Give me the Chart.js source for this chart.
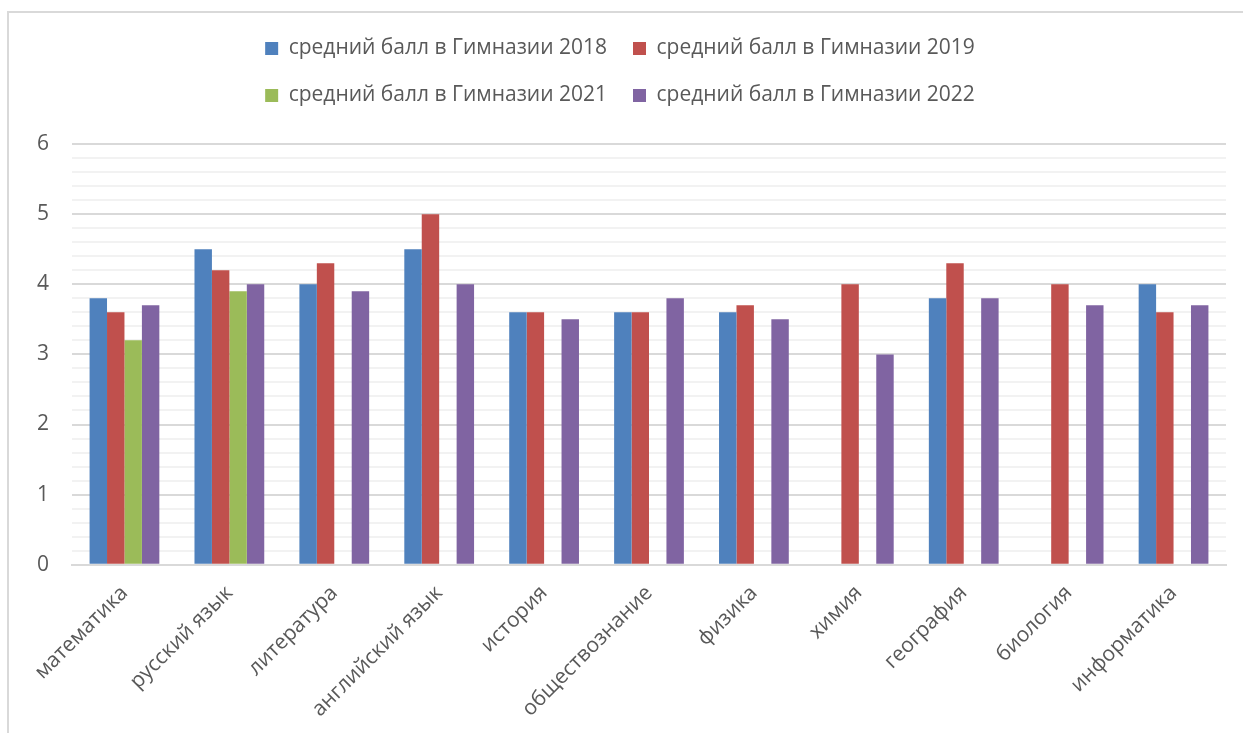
<!DOCTYPE html>
<html>
<head>
<meta charset="utf-8">
<script src="https://cdn.jsdelivr.net/npm/chart.js@4.4.1/dist/chart.umd.min.js"></script>
<style>
  html, body { margin: 0; padding: 0; background: #fff; overflow: hidden; }
  #wrap { position: relative; width: 1243px; height: 733px; }
  #frame { position: absolute; left: 7px; top: 11px; width: 1300px; height: 800px;
           border: 2px solid #d9d9d9; box-sizing: border-box; }
  canvas { position: absolute; left: 0; top: 0; }
</style>
</head>
<body>
<div id="wrap">
  <div id="frame"></div>
  <canvas id="gymChart" width="1243" height="733"></canvas>
</div>
<script>
// subjects
const subjects = ['математика', 'русский язык', 'литература', 'английский язык', 'история',
  'обществознание', 'физика', 'химия', 'география', 'биология', 'информатика'];

// average scores per year (null = no data)
const score2018 = [3.8, 4.5, 4.0, 4.5, 3.6, 3.6, 3.6, null, 3.8, null, 4.0];
const score2019 = [3.6, 4.2, 4.3, 5.0, 3.6, 3.6, 3.7, 4.0, 4.3, 4.0, 3.6];
const score2021 = [3.2, 3.9, null, null, null, null, null, null, null, null, null];
const score2022 = [3.7, 4.0, 3.9, 4.0, 3.5, 3.8, 3.5, 3.0, 3.8, 3.7, 3.7];

const seriesNames = ['средний балл в Гимназии 2018', 'средний балл в Гимназии 2019',
  'средний балл в Гимназии 2021', 'средний балл в Гимназии 2022'];

const yTicks = [0, 1, 2, 3, 4, 5, 6];

const colors = ['#4f81bd', '#c0504d', '#9bbb59', '#8064a2'];

Chart.defaults.font.family = '"Open Sans", "Noto Sans", sans-serif';
Chart.defaults.color = '#595959';

// squeeze the legend so it wraps two items per row (like the Excel original)
// and leave some extra room below it
const legendWrap = {
  id: 'legendWrap',
  beforeLayout(chart) {
    const lg = chart.legend;
    if (lg && !lg._wrapped) {
      const orig = lg.update.bind(lg);
      lg.update = (w, h, m) => {
        orig(Math.min(w, 780), h, m);
        lg.height += 28;
      };
      lg._wrapped = true;
    }
  }
};

const isMajor = v => Math.abs(v - Math.round(v)) < 1e-6;

const ctx = document.getElementById('gymChart').getContext('2d');
const gymChart = new Chart(ctx, {
  type: 'bar',
  data: {
    labels: subjects,
    datasets: [
      { label: seriesNames[0], data: score2018, backgroundColor: colors[0] },
      { label: seriesNames[1], data: score2019, backgroundColor: colors[1] },
      { label: seriesNames[2], data: score2021, backgroundColor: colors[2] },
      { label: seriesNames[3], data: score2022, backgroundColor: colors[3] }
    ]
  },
  options: {
    responsive: false,
    animation: false,
    categoryPercentage: 0.665,
    barPercentage: 1.0,
    layout: {
      padding: { left: 14, right: 17, top: 12, bottom: 3 }
    },
    plugins: {
      legend: {
        position: 'top',
        labels: {
          boxWidth: 13,
          boxHeight: 13,
          padding: 26,
          color: '#595959',
          font: { size: 21 }
        }
      },
      tooltip: { enabled: false }
    },
    scales: {
      x: {
        grid: { display: false },
        border: { display: true, color: '#d9d9d9', width: 2 },
        ticks: {
          maxRotation: 45,
          minRotation: 45,
          autoSkip: false,
          padding: 8,
          font: { size: 21 }
        }
      },
      y: {
        min: yTicks[0],
        max: yTicks[yTicks.length - 1],
        border: { display: false },
        grid: {
          drawTicks: false,
          color: c => isMajor(c.tick.value) ? '#d9d9d9' : '#f2f2f2',
          lineWidth: 2
        },
        ticks: {
          stepSize: 0.2,
          autoSkip: false,
          padding: 23,
          font: { size: 21 },
          callback: v => isMajor(v) ? String(Math.round(v)) : ''
        }
      }
    }
  },
  plugins: [legendWrap]
});
</script>
</body>
</html>
